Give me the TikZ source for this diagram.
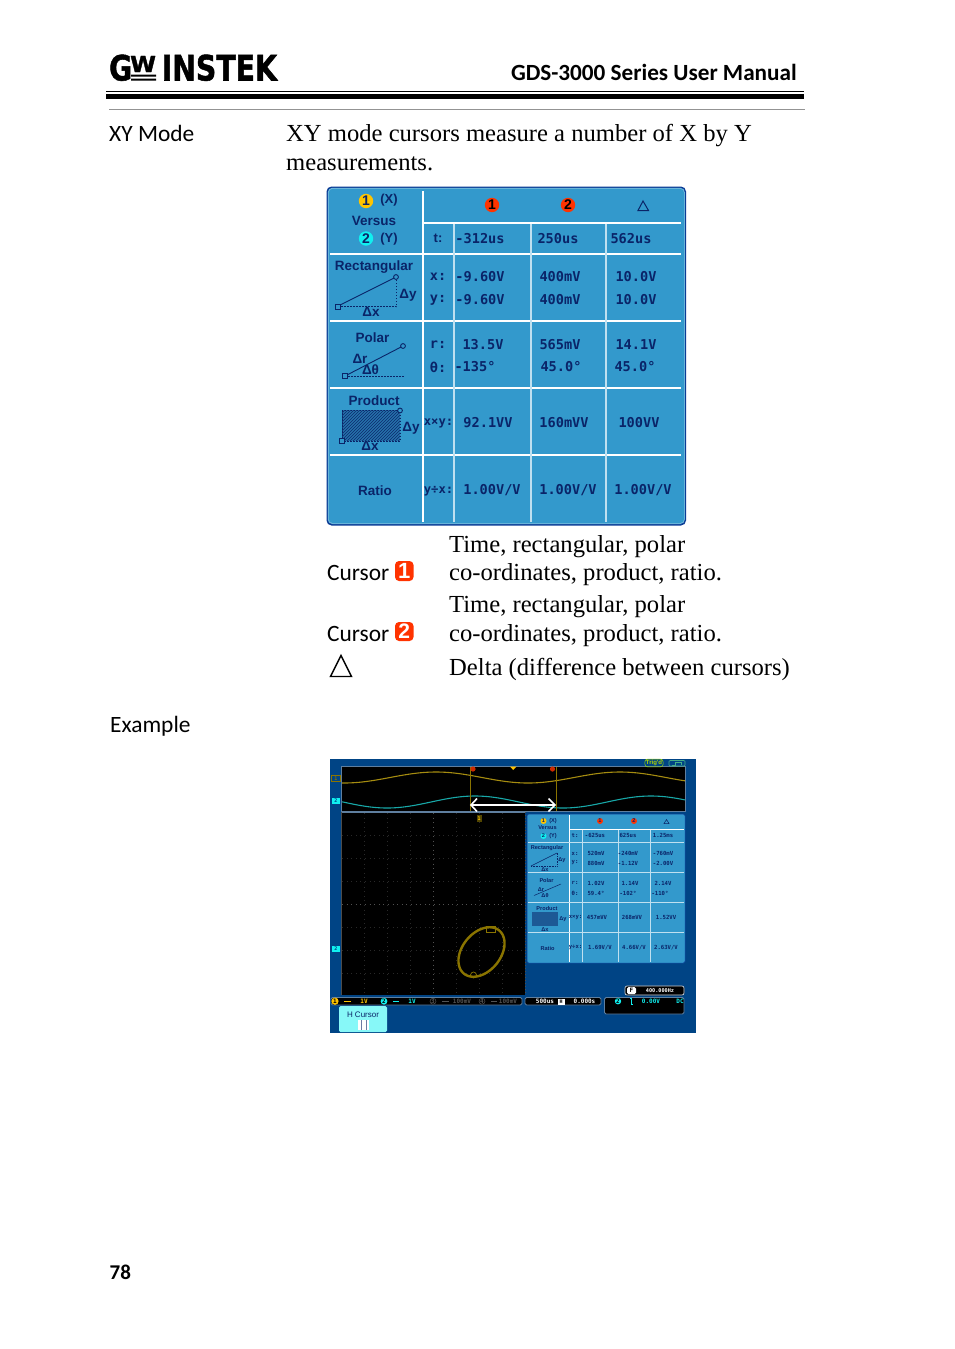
\documentclass[tikz,border=0pt]{standalone}
\usepackage{fontspec}
\setmainfont{Liberation Serif}
\newfontfamily\bodyf[FakeStretch=1.005]{Liberation Serif}
\newfontfamily\candf{Carlito}
\newfontfamily\labf{Liberation Sans}
\newfontfamily\monof{DejaVu Sans Mono}
\newfontfamily\logof[BoldFeatures={FakeBold=1.5}]{DejaVu Sans}
\definecolor{panel}{HTML}{3399CC}
\definecolor{navy}{HTML}{0A2468}
\definecolor{edge}{HTML}{0A3C96}
\definecolor{scr}{HTML}{004485}
\definecolor{cellline}{HTML}{BFE0F0}
\definecolor{olive}{HTML}{8A7400}
\definecolor{wavey}{HTML}{A58C10}
\definecolor{wavec}{HTML}{18A8A8}
\definecolor{curs}{HTML}{FF3300}
\definecolor{ygold}{HTML}{FFC400}
\definecolor{cyn}{HTML}{10F0F0}
\definecolor{barcol}{HTML}{5F7F9F}
\tikzset{
  bodytext/.style={anchor=base west,inner sep=0pt,font=\bodyf\fontsize{24.5}{28}\selectfont,text=black},
  sidetext/.style={anchor=base west,inner sep=0pt,font=\candf\fontsize{23.4}{28}\selectfont,text=black},
  val/.style={inner sep=0pt,font=\monof\bfseries\fontsize{13.6}{15}\selectfont,text=navy},
  lab/.style={inner sep=0pt,font=\labf\bfseries\fontsize{13.5}{15}\selectfont,text=navy},
  sval/.style={inner sep=0pt,font=\monof\bfseries\fontsize{5.6}{7}\selectfont,text=navy},
  slab/.style={inner sep=0pt,font=\labf\bfseries\fontsize{5.6}{7}\selectfont,text=navy},
  sbar/.style={inner sep=0pt,font=\monof\bfseries\fontsize{6}{7}\selectfont},
  bigline/.style={white,line width=2pt},
  cell/.style={cellline,line width=1.4pt},
  sbigline/.style={white,line width=1pt},
  scell/.style={cellline,line width=.8pt},
  ink/.style={navy,line width=.9pt},
  inkdot/.style={navy,line width=1pt,dash pattern=on 1.5pt off 1.5pt},
  readout/.style={draw=barcol,fill=black,line width=.8pt,rounded corners=1.5pt},
}
\begin{document}
\begin{tikzpicture}[x=1pt,y=-1pt]
\useasboundingbox (0,0) rectangle (954,1349);
\fill[white] (0,0) rectangle (954,1349);

% ---------- header
\node[anchor=base west,inner sep=0pt,font=\logof\bfseries\fontsize{35}{36}\selectfont,xscale=.80,transform shape] (logoG) at (109,80.5) {G};
\node[anchor=base west,inner sep=0pt,font=\logof\bfseries\fontsize{22}{24}\selectfont,xscale=1.06,transform shape] (logoW) at (130,72) {W};
\fill[black] (131,74.5) rectangle (156,76.5) (131,78.5) rectangle (156,80.5);
\node[anchor=base west,inner sep=0pt,font=\logof\bfseries\fontsize{35}{36}\selectfont,xscale=.81,transform shape] (logoI) at (161.5,80.5) {INSTEK};
\node[anchor=base east,inner sep=0pt,font=\candf\bfseries\fontsize{23.2}{28}\selectfont] (title) at (797,80) {GDS-3000 Series User Manual};
\fill[black] (106,91) rectangle (804,92.4);
\fill[black] (106,94) rectangle (804,99);
\fill[gray!85] (109,108.7) rectangle (805,109.8);

% ---------- intro
\node[sidetext] (xy) at (109,141) {XY Mode};
\node[bodytext] (b1) at (286,141.5) {XY mode cursors measure a number of X by Y};
\node[bodytext] (b2) at (286,170) {measurements.};

% ---------- big panel
\fill[edge,rounded corners=5pt] (326.5,186.5) rectangle (686,525.5);
\fill[panel!70!white,rounded corners=4.5pt] (327.8,187.8) rectangle (684.8,524);
\fill[panel,rounded corners=4pt] (328.8,188.8) rectangle (684,523);
\draw[bigline] (423,191) -- (423,522);
\draw[bigline] (423,222.7) -- (681,222.7);
\foreach \yy in {253.7,321,388,455} \draw[bigline] (330,\yy) -- (681,\yy);
\foreach \xx in {454,531,606} \draw[cell] (\xx,223.7) -- (\xx,522);

% header cells
\fill[ygold] (366,201) circle (7.2);
\node[lab,font=\labf\bfseries\fontsize{14}{15}\selectfont] (c1x) at (366,201) {1};
\node[lab,font=\labf\bfseries\fontsize{13}{15}\selectfont] (x1) at (389,200.5) {(X)};
\node[lab] (vs) at (374,220.5) {Versus};
\fill[cyn] (366,238.5) circle (7.2);
\node[lab,font=\labf\bfseries\fontsize{14}{15}\selectfont] (c2y) at (366,238.5) {2};
\node[lab,font=\labf\bfseries\fontsize{13}{15}\selectfont] (y1) at (389,239) {(Y)};
\fill[curs] (492,205) circle (7.2);
\node[lab,font=\labf\bfseries\fontsize{14}{15}\selectfont,text=black] (hc1) at (492,205) {1};
\fill[curs] (568,205) circle (7.2);
\node[lab,font=\labf\bfseries\fontsize{14}{15}\selectfont,text=black] (hc2) at (568,205) {2};
\draw[navy,line width=1pt] (638,210.5) -- (643,201) -- (648.5,210.5) -- cycle;

% row labels
\node[lab] (lr) at (374,267) {Rectangular};
\node[lab] (lp) at (372.5,338) {Polar};
\node[lab] (lq) at (374,400.5) {Product};
\node[lab] (lt) at (375,490.5) {Ratio};
\node[val,font=\labf\bfseries\fontsize{13}{15}\selectfont] (kt) at (438,238.5) {t:};
\node[val] (kx) at (438,277) {x:};
\node[val] (ky) at (438,300) {y:};
\node[val] (kr) at (438,345) {r:};
\node[val] (ko) at (438,367) {θ:};
\node[val,font=\monof\bfseries\fontsize{12.2}{15}\selectfont] (kp) at (438.5,423.5) {x×y:};
\node[val,font=\monof\bfseries\fontsize{12.2}{15}\selectfont] (kd) at (438.5,491) {y÷x:};

% values
\node[val] (v1) at (480,238.5) {-312us};
\node[val] (v2) at (558,238.5) {250us};
\node[val] (v3) at (631,238.5) {562us};
\node[val] (v4) at (480,277) {-9.60V};
\node[val] (v5) at (560,277) {400mV};
\node[val] (v6) at (636,277) {10.0V};
\node[val] (v7) at (480,299.5) {-9.60V};
\node[val] (v8) at (560,299.5) {400mV};
\node[val] (v9) at (636,299.5) {10.0V};
\node[val] (v10) at (483,345) {13.5V};
\node[val] (v11) at (560,345) {565mV};
\node[val] (v12) at (636,345) {14.1V};
\node[val] (v13) at (475,367) {-135°};
\node[val] (v14) at (561,367) {45.0°};
\node[val] (v15) at (635,367) {45.0°};
\node[val] (v16) at (488,423) {92.1VV};
\node[val] (v17) at (564,423) {160mVV};
\node[val] (v18) at (639,423) {100VV};
\node[val] (v19) at (492,490.5) {1.00V/V};
\node[val] (v20) at (568,490.5) {1.00V/V};
\node[val] (v21) at (643,490.5) {1.00V/V};

% rectangular sketch
\draw[ink] (338,306) -- (396,277);
\draw[inkdot] (338,306.5) -- (396.5,306.5) -- (396.5,279);
\draw[ink,fill=panel] (335.5,304) rectangle +(5,5);
\draw[ink,fill=panel] (396,277) circle (2.4);
\node[lab] (dy1) at (408,295) {Δy};
\node[lab] (dx1) at (371,312) {Δx};
% polar sketch
\draw[ink] (345,376) -- (403,346);
\draw[inkdot] (345,376) -- (405,376);
\draw[ink,fill=panel] (342.5,373.5) rectangle +(5,5);
\draw[ink,fill=panel] (403,346) circle (2.4);
\node[lab] (dr) at (360,359) {Δr};
\node[lab] (dt) at (370.5,370) {Δθ};
% product sketch
\fill[navy!25!panel] (342,410) rectangle (400,441);
\begin{scope}
\clip (342,410) rectangle (400,441);
\foreach \k in {0,3,...,93} \draw[navy!85!panel,line width=.9pt] (342+\k-31,441) -- (342+\k,410);
\end{scope}
\draw[inkdot] (342,410) rectangle (400,441);
\draw[ink,fill=panel] (339.5,438.5) rectangle +(5,5);
\draw[ink,fill=panel] (400,410.5) circle (2.4);
\node[lab] (dy2) at (411,428.5) {Δy};
\node[lab] (dx2) at (370,446) {Δx};

% ---------- legend
\node[sidetext] (cu1) at (327,580) {Cursor};
\fill[curs,rounded corners=4pt] (395,561) rectangle (413.5,581);
\node[inner sep=0pt,text=white,font=\labf\bfseries\fontsize{22}{22}\selectfont] (cn1) at (404.2,571) {1};
\node[sidetext] (cu2) at (327,641) {Cursor};
\fill[curs,rounded corners=4pt] (395,622) rectangle (413.5,641);
\node[inner sep=0pt,text=white,font=\labf\bfseries\fontsize{21}{22}\selectfont] (cn2) at (404.2,631.5) {2};
\draw[black,line width=1.4pt] (330.5,676.5) -- (341,655.5) -- (351.5,676.5) -- cycle;
\node[bodytext] (l1) at (449,552) {Time, rectangular, polar};
\node[bodytext] (l2) at (449,580) {co-ordinates, product, ratio.};
\node[bodytext] (l3) at (449,612) {Time, rectangular, polar};
\node[bodytext] (l4) at (449,641) {co-ordinates, product, ratio.};
\node[bodytext] (l5) at (449,675) {Delta (difference between cursors)};
\node[sidetext] (ex) at (110,732) {Example};

% ---------- screenshot
\fill[scr] (330,759) rectangle (696,1033);
\fill[black] (341.5,767) rectangle (685,811);
\draw[barcol,line width=.8pt] (341.5,766.5) rectangle (685,811.5);
\draw[wavey,line width=1.1pt] plot[domain=342:685,samples=120,smooth] (\x,{777.5-5.5*cos((\x-436)/184*360)});
\draw[wavec,line width=1.1pt] plot[domain=342:685,samples=120,smooth] (\x,{802-6*cos((\x-475)/176*360)});
\draw[olive,line width=.9pt] (470.7,767) -- (470.7,811);
\draw[olive,line width=.9pt] (556,767) -- (556,811);
\fill[curs!80!black] (473,769) circle (2.6);
\fill[curs!80!black] (552.5,769) circle (2.6);
\fill[ygold] (510,766.5) -- (516.5,766.5) -- (513.2,770) -- cycle;
\node[inner sep=1pt,font=\labf\bfseries\fontsize{6}{7}\selectfont,text=ygold!70!green,draw=ygold!60!green,line width=.5pt,rounded corners=2.5pt] (trig) at (654,763) {Trig'd};
\draw[ygold!20!wavec,line width=.6pt,rounded corners=1pt] (669,766) rectangle (685,760.5);
\draw[ygold!20!wavec,line width=.6pt] (672,765) -- (675,765) -- (675,762) -- (681,762) -- (681,765);
\draw[olive,line width=.7pt] (331.5,775.5) rectangle (340,781.5);
\node[inner sep=0pt,text=olive,font=\monof\bfseries\fontsize{5}{6}\selectfont] (m1) at (336,778.5) {1};
\fill[cyn] (332,798) rectangle (340,804);
\node[inner sep=0pt,text=scr,font=\monof\bfseries\fontsize{5}{6}\selectfont] (m2) at (336,801) {2};
\fill[cyn] (332,946) rectangle (340,952);
\node[inner sep=0pt,text=scr,font=\monof\bfseries\fontsize{5}{6}\selectfont] (m3) at (336,949) {2};

% grid
\fill[black] (341.5,812) rectangle (525,995);
\draw[barcol,line width=.8pt] (341.5,812.5) -- (525,812.5);
\foreach \k in {1,...,7} {
  \draw[white!16!black,line width=.6pt,dash pattern=on .8pt off 3.8pt] (341.5+23*\k,813) -- (341.5+23*\k,995);
  \draw[white!16!black,line width=.6pt,dash pattern=on .8pt off 3.8pt] (342,812+23*\k) -- (525,812+23*\k);
}
\draw[white!32!black,line width=.8pt,dash pattern=on 1pt off 3.6pt] (433.5,813) -- (433.5,995);
\draw[white!32!black,line width=.8pt,dash pattern=on 1pt off 3.6pt] (342,904) -- (525,904);
\draw[white!30!black,line width=.6pt] (341.5,812) -- (341.5,995);
\draw[white!30!black,line width=1pt,dash pattern=on 1pt off 2pt] (525,812) -- (525,995);
% cursor tag
\fill[olive!60!black] (476.5,815) rectangle (481.5,822);
\node[inner sep=0pt,text=ygold,font=\monof\bfseries\fontsize{5}{6}\selectfont] (tag) at (479,818.5) {1};
% trace
\draw[olive,line width=2.4pt] plot[domain=0:360,samples=72,smooth cycle] ({481.5+22.5*cos(\x)-5*sin(\x)},{952+24.5*sin(\x)-3.5*cos(\x)});
\draw[olive,line width=.7pt] (486,926) rectangle (495,932);
\draw[olive,line width=.7pt] (473.5,975) circle (3);

% mini table
\fill[panel,rounded corners=1.5pt] (527,814) rectangle (685,963);
\draw[edge,line width=.5pt,rounded corners=1.5pt] (527,814) rectangle (685,963);
\draw[sbigline] (569,815) -- (569,962);
\draw[sbigline] (569,829) -- (684,829);
\foreach \yy in {842,872,902,932} \draw[scell,line width=1pt] (528,\yy) -- (684,\yy);
\foreach \xx in {582,618,650} \draw[scell] (\xx,829.5) -- (\xx,962);
\fill[ygold] (543.5,821) circle (3);
\node[slab] (sa) at (543.5,821) {1};
\node[slab] (sb) at (553,821) {(X)};
\node[slab] (sc) at (547.5,828) {Versus};
\fill[cyn] (543.5,836) circle (3);
\node[slab] (sd) at (543.5,836) {2};
\node[slab] (se) at (553,836) {(Y)};
\fill[curs] (600,821) circle (3);
\fill[curs] (634,821) circle (3);
\node[slab] (sf) at (600,821) {1};
\node[slab] (sg) at (634,821) {2};
\draw[navy,line width=.5pt] (664,823.5) -- (666.5,819.5) -- (669,823.5) -- cycle;
\node[slab] (s1) at (547,848) {Rectangular};
\node[slab] (s2) at (546.5,880.5) {Polar};
\node[slab] (s3) at (547,908) {Product};
\node[slab] (s4) at (547.5,948) {Ratio};
% mini sketches
\draw[navy,line width=.5pt] (531,866) -- (557,853);
\draw[navy,line width=.5pt,dash pattern=on .8pt off .8pt] (531,866) -- (557,866) -- (557,853);
\node[slab] (s5) at (562,860) {Δy};
\node[slab] (s6) at (545,869.5) {Δx};
\draw[navy,line width=.5pt] (534,895.5) -- (561,884);
\node[slab] (s7) at (541,890) {Δr};
\node[slab] (s8) at (545,895.5) {Δθ};
\fill[navy!55!panel] (532,912) rectangle (558,926);
\node[slab] (s9) at (563,919) {Δy};
\node[slab] (s10) at (545,929.5) {Δx};
% mini labels
\node[sval] (t1) at (575,835.5) {t:};
\node[sval] (t2) at (575,853.5) {x:};
\node[sval] (t3) at (575,863) {y:};
\node[sval] (t4) at (575,883) {r:};
\node[sval] (t5) at (575,893) {θ:};
\node[sval] (t6) at (575.5,917.5) {x×y:};
\node[sval] (t7) at (575.5,947.5) {y÷x:};
\node[sval] (a1) at (595,835.5) {-625us};
\node[sval] (a2) at (628,835.5) {625us};
\node[sval] (a3) at (663,835.5) {1.25ms};
\node[sval] (a4) at (596,853.5) {520mV};
\node[sval] (a5) at (628,853.5) {-240mV};
\node[sval] (a6) at (663,853.5) {-760mV};
\node[sval] (a7) at (596,863) {880mV};
\node[sval] (a8) at (628,863) {-1.12V};
\node[sval] (a9) at (663,863) {-2.00V};
\node[sval] (a10) at (596,883) {1.02V};
\node[sval] (a11) at (630,883) {1.14V};
\node[sval] (a12) at (663,883) {2.14V};
\node[sval] (a13) at (596,893) {59.4°};
\node[sval] (a14) at (628,893) {-102°};
\node[sval] (a15) at (660,893) {-110°};
\node[sval] (a16) at (597,917.5) {457mVV};
\node[sval] (a17) at (632,917.5) {268mVV};
\node[sval] (a18) at (666,917.5) {1.52VV};
\node[sval] (a19) at (600,947.5) {1.69V/V};
\node[sval] (a20) at (634,947.5) {4.66V/V};
\node[sval] (a21) at (666,947.5) {2.63V/V};

% double arrow over the cursors
\coordinate (arL) at (471,805);
\coordinate (arR) at (555,805);
\draw[white,line width=2.2pt] (arL) -- (arR);
\draw[white,line width=1.6pt] (477,798.5) -- (arL) -- (477,811.5);
\draw[white,line width=1.6pt] (548.5,798.5) -- (arR) -- (548.5,811.5);

% bottom bar
\draw[readout] (331,997.5) rectangle (522,1005);
\fill[ygold] (335,1001.2) circle (3.6);
\node[sbar,text=black] (bb1) at (335,1001.2) {1};
\fill[ygold] (344,1000.6) rectangle (351,1001.8);
\node[sbar,text=ygold] (bb2) at (364,1001.2) {1V};
\fill[cyn] (384,1001.2) circle (3.4);
\node[sbar,text=black] (bb3) at (384,1001.2) {2};
\fill[cyn] (393,1000.6) rectangle (399,1001.8);
\node[sbar,text=cyn] (bb4) at (412,1001.2) {1V};
\draw[gray!65!black,line width=.5pt] (433,1001.2) circle (3);
\node[sbar,text=gray!65!black] (bb5) at (433,1001.2) {3};
\fill[gray!65!black] (442,1000.8) rectangle (449,1001.6);
\node[sbar,text=gray!65!black] (bb6) at (462,1001.2) {100mV};
\draw[gray!65!black,line width=.5pt] (482,1001.2) circle (3);
\node[sbar,text=gray!65!black] (bb7) at (482,1001.2) {4};
\fill[gray!65!black] (491,1000.8) rectangle (497,1001.6);
\node[sbar,text=gray!65!black] (bb8) at (508,1001.2) {100mV};
% timebase
\draw[readout] (525,997.5) rectangle (601,1005);
\node[sbar,text=white] (tb1) at (545,1001.2) {500us};
\fill[white] (558,998.5) rectangle (564.5,1004.5);
\node[sbar,text=black,font=\monof\bfseries\fontsize{5}{6}\selectfont] (tb2) at (561.2,1001.5) {H};
\node[sbar,text=white] (tb3) at (584.5,1001.2) {0.000s};
% frequency
\draw[black,line width=.5pt,fill=black,rounded corners=1.5pt] (625,986) rectangle (684,995);
\draw[white!70!barcol,line width=.7pt,rounded corners=2pt] (625,986) rectangle (684,995);
\fill[white,rounded corners=1.5pt] (627,987) rectangle (636,994);
\node[sbar,text=black] (ff1) at (631.5,990.5) {F};
\node[sbar,text=white,font=\monof\bfseries\fontsize{5.2}{6}\selectfont] (ff2) at (660,990.5) {400.000Hz};
% trigger box
\draw[readout] (604.5,997.5) rectangle (684,1014);
\fill[cyn] (618,1001.2) circle (3.2);
\node[sbar,text=black] (tr1) at (618,1001.2) {2};
\draw[cyn,line width=.6pt] (630,998) -- (631,998) -- (631,1004.5) -- (633,1004.5);
\node[sbar,text=cyn] (tr2) at (651,1001.2) {0.00V};
\node[sbar,text=cyn] (tr3) at (680,1001.2) {DC};
% softkey
\fill[cyn!50!white,rounded corners=1.5pt] (339,1006) rectangle (387,1032);
\node[inner sep=0pt,text=navy,font=\labf\fontsize{8}{9}\selectfont] (hc) at (363,1014.5) {H Cursor};
\fill[white] (358,1020) rectangle (369,1030);
\draw[navy!60!white,line width=.8pt] (361,1020) -- (361,1030);
\draw[navy!60!white,line width=.8pt] (366,1020) -- (366,1030);

% page number
\node[anchor=base west,inner sep=0pt,font=\candf\bfseries\fontsize{21}{24}\selectfont] (pg) at (109.5,1279) {78};
\end{tikzpicture}
\end{document}
